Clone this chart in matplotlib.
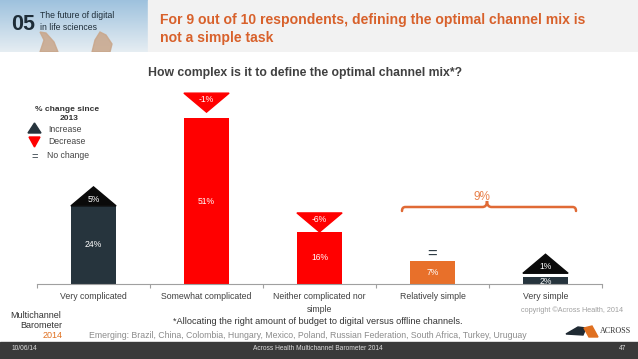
import numpy as np
import matplotlib
matplotlib.use("Agg")
import matplotlib.pyplot as plt
from matplotlib.patches import Polygon, Rectangle
from matplotlib.path import Path
from matplotlib.patches import PathPatch

plt.rcParams['font.family'] = ['Liberation Sans', 'DejaVu Sans']

# ---- data ----
categories = ["Very complicated", "Somewhat complicated", "Neither complicated nor\nsimple",
              "Relatively simple", "Very simple"]
values = [24, 51, 16, 7, 2]
change_labels = ["5%", "-1%", "-6%", "=", "1%"]
change_dirs = ["up", "down", "down", "same", "up"]
group_label = "9%"

W, H = 638, 359
fig = plt.figure(figsize=(W / 100, H / 100), dpi=100)
fig.patch.set_facecolor("white")

def fx(x):
    return x / W

def fy(y):
    return 1 - y / H

# ---- header ----
hdr = fig.add_axes([0, fy(52), 1, 52 / H])
hdr.set_axis_off()
hdr.add_patch(Rectangle((148, 0), W - 148, 52, color="#F2F2F2"))
# sky gradient
grad = np.linspace(0, 1, 50)[:, None] * np.ones((1, 80))
sky_top = np.array([0.62, 0.76, 0.87])
sky_bot = np.array([0.90, 0.93, 0.95])
img = sky_top[None, None, :] * (1 - grad[:, :, None]) + sky_bot[None, None, :] * grad[:, :, None]
hdr.imshow(img, extent=(0, 148, 52, 0), aspect="auto")
# hands (simple shapes)
hdr.add_patch(Polygon([[40, 52], [44, 40], [40, 32], [46, 33], [54, 42], [58, 52]],
                      color="#C9A68A", alpha=0.85))
hdr.add_patch(Polygon([[92, 52], [95, 40], [100, 32], [106, 35], [112, 44], [110, 52]],
                      color="#C9A68A", alpha=0.85))
hdr.set_xlim(0, W)
hdr.set_ylim(52, 0)

fig.text(fx(11), fy(24), "05", fontsize=15.5, fontweight="bold", color="#1E2D38",
         va="center", ha="left")
fig.text(fx(40), fy(16), "The future of digital", fontsize=6.2, color="#1E2D38", va="center")
fig.text(fx(40), fy(28), "in life sciences", fontsize=6.2, color="#1E2D38", va="center")

fig.text(fx(160), fy(20), "For 9 out of 10 respondents, defining the optimal channel mix is",
         fontsize=10.1, fontweight="bold", color="#D8612B", va="center", ha="left")
fig.text(fx(160), fy(38), "not a simple task",
         fontsize=10.1, fontweight="bold", color="#D8612B", va="center", ha="left")

# chart title
fig.text(fx(305), fy(73), "How complex is it to define the optimal channel mix*?",
         fontsize=8.8, fontweight="bold", color="#404040", ha="center", va="center")

# ---- main axes ----
base_px, top_px = 284, 90
left_px, right_px = 37, 602
px_per_unit = 166 / 51
ymax = (base_px - top_px) / px_per_unit
ax = fig.add_axes([fx(left_px), fy(base_px), (right_px - left_px) / W, (base_px - top_px) / H])
ax.set_xlim(-0.5, len(categories) - 0.5)
ax.set_ylim(0, ymax)
for s in ["top", "right", "left"]:
    ax.spines[s].set_visible(False)
ax.spines["bottom"].set_color("#A0A0A0")
ax.spines["bottom"].set_linewidth(0.8)
ax.set_yticks([])
ax.set_xticks(np.arange(-0.5, len(categories), 1.0))
ax.set_xticklabels([])
ax.tick_params(axis="x", length=3, color="#A0A0A0", width=0.8)
ax.set_facecolor("none")

bar_colors = ["#26343D", "#FF0000", "#FF0000", "#E8702A", "#26343D"]
x = np.arange(len(categories))
bw = 0.4
ax.bar(x, values, width=bw, color=bar_colors, zorder=2)

for i, v in enumerate(values):
    ax.text(i, v / 2 if v > 4 else v / 2 - 0.1, f"{v}%", color="white", fontsize=6.2,
            ha="center", va="center", zorder=4)
    ax.text(i, -2.5, categories[i], ha="center", va="top", fontsize=6.3, color="#404040",
            linespacing=1.5)

th = 19 / px_per_unit
gaps = [0, 1.8, 0, 0, 1.3]
for i, (lab, d) in enumerate(zip(change_labels, change_dirs)):
    v = values[i]
    if d == "up":
        b = v + gaps[i]
        ax.add_patch(Polygon([[i - bw / 2, b], [i + bw / 2, b], [i, b + th]],
                             color="#0A0A0A", zorder=3, clip_on=False))
        ax.text(i, b + th * 0.33, lab, color="white", fontsize=6.2, ha="center",
                va="center", zorder=4)
    elif d == "down":
        a = v + gaps[i]
        ax.add_patch(Polygon([[i - bw / 2, a + th], [i + bw / 2, a + th], [i, a]],
                             color="#FF0000", zorder=3, clip_on=False))
        ax.text(i, a + th * 0.68, lab, color="white", fontsize=6.2, ha="center",
                va="center", zorder=4)
    else:
        ax.text(i, v + 2.2, lab, color="#26343D", fontsize=12, ha="center",
                va="center", zorder=4)

# bracket over the two "simple" categories
def dx(px):
    return (px - left_px) / 113 - 0.5

def dy(py):
    return (base_px - py) / px_per_unit

xl, xr, xm = dx(402), dx(576), dx(487)
yb, ye, yp = dy(207), dy(211), dy(201)
verts = [(xl, ye), (xl, yb), (xl + 0.03, yb),
         (xm - 0.04, yb), (xm, yb), (xm, yp), (xm, yb), (xm + 0.04, yb),
         (xr - 0.03, yb), (xr, yb), (xr, ye)]
codes = [Path.MOVETO, Path.CURVE3, Path.CURVE3,
         Path.LINETO, Path.CURVE3, Path.CURVE3, Path.CURVE3, Path.CURVE3,
         Path.LINETO, Path.CURVE3, Path.CURVE3]
ax.add_patch(PathPatch(Path(verts, codes), fill=False, edgecolor="#E06A35", lw=1.8,
                       capstyle="round", zorder=3))
ax.text(dx(482), dy(197), group_label, color="#E8804A", fontsize=8.5, ha="center",
        va="center")

# ---- legend ----
fig.text(fx(67), fy(109), "% change since", fontsize=6, fontweight="bold", color="#333333",
         ha="center", va="center")
fig.text(fx(69), fy(119), "2013", fontsize=6, fontweight="bold", color="#333333",
         ha="center", va="center")
lg = fig.add_axes([0, 0, 1, 1])
lg.set_axis_off()
lg.set_xlim(0, W)
lg.set_ylim(H, 0)
lg.add_patch(Polygon([[28, 133], [41, 133], [34.5, 123]], color="#26343D"))
lg.add_patch(Polygon([[29, 137], [40, 137], [34.5, 147]], color="#FF0000"))
fig.text(fx(48), fy(130), "Increase", fontsize=6.2, color="#444444", va="center")
fig.text(fx(48), fy(142), "Decrease", fontsize=6.2, color="#444444", va="center")
fig.text(fx(35), fy(157), "=", fontsize=8, color="#26343D", va="center", ha="center")
fig.text(fx(47), fy(156), "No change", fontsize=6.2, color="#444444", va="center")

# ---- footnotes ----
fig.text(fx(623), fy(310), "copyright \u00a9Across Health, 2014", fontsize=5.2, color="#A0A0A0",
         ha="right", va="center")
fig.text(fx(318), fy(322), "*Allocating the right amount of budget to digital versus offline channels.",
         fontsize=6.6, color="#333333", ha="center", va="center")
fig.text(fx(308), fy(335),
         "Emerging: Brazil, China, Colombia, Hungary, Mexico, Poland, Russian Federation, South Africa, Turkey, Uruguay",
         fontsize=6.3, color="#8C8C8C", ha="center", va="center")

# left logo
fig.text(fx(10), fy(315), "Multichannel", fontsize=6.5, color="#333333", va="center")
fig.text(fx(20), fy(325), "Barometer", fontsize=6.5, color="#333333", va="center")
fig.text(fx(43), fy(335), "2014", fontsize=6.5, color="#E07020", va="center")

# right logo
lg.add_patch(Polygon([[566, 334], [578, 327], [586, 328], [583, 335]], color="#1F2A33"))
lg.add_patch(Polygon([[584, 328], [592, 326], [598, 337], [589, 337]], color="#E07020"))
fig.text(fx(600), fy(331), "ACROSS", fontsize=5.8, color="#333333", va="center",
         family="Liberation Serif")

# ---- footer ----
lg.add_patch(Rectangle((0, 342), W, 17, color="#3A3A3A"))
fig.text(fx(12), fy(349), "10/06/14", fontsize=4.8, color="#DDDDDD", va="center")
fig.text(fx(318), fy(349), "Across Health Multichannel Barometer 2014", fontsize=4.8,
         color="#DDDDDD", va="center", ha="center")
fig.text(fx(626), fy(349), "47", fontsize=4.8, color="#DDDDDD", va="center", ha="right")

fig.savefig("out.png", dpi=100)
